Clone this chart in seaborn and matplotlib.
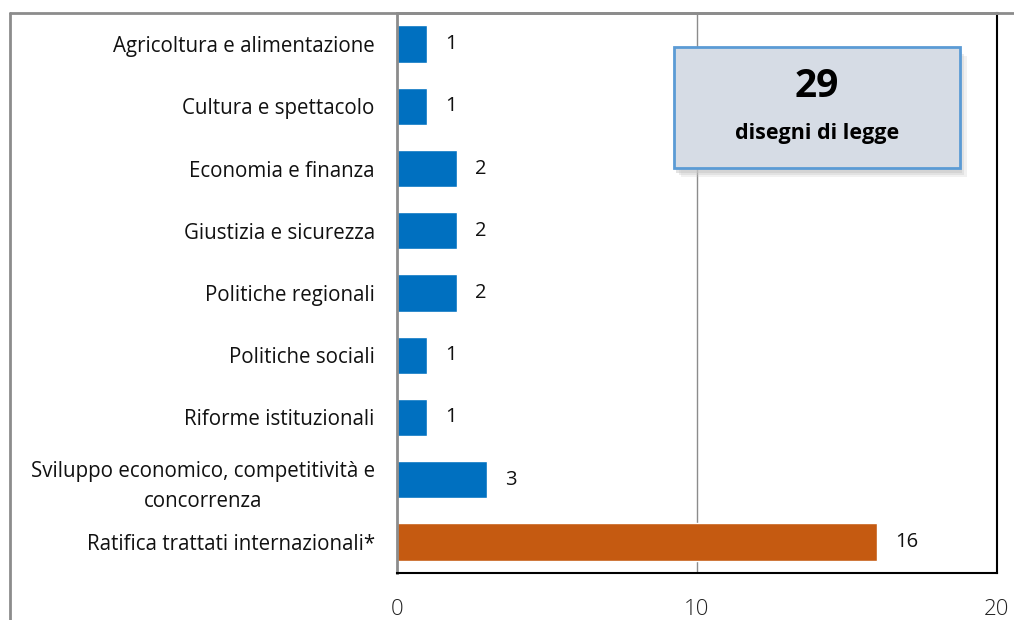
import numpy as np
import pandas as pd
import seaborn as sns
from matplotlib import pyplot as plt
from matplotlib.lines import Line2D
from matplotlib.patches import FancyBboxPatch

categorie = [
    "Agricoltura e alimentazione",
    "Cultura e spettacolo",
    "Economia e finanza",
    "Giustizia e sicurezza",
    "Politiche regionali",
    "Politiche sociali",
    "Riforme istituzionali",
    "Sviluppo economico, competitività e\nconcorrenza",
    "Ratifica trattati internazionali*",
]
valori = [1, 1, 2, 2, 2, 1, 1, 3, 16]
gruppo = ["tema"] * 8 + ["ratifica"]
colori = {"tema": "#0070C0", "ratifica": "#C55A11"}

totale = "29"
sottotitolo = "disegni di legge"
x_ticks = [0, 10, 20]

df = pd.DataFrame({"categoria": categorie, "valore": valori, "gruppo": gruppo})

sns.set_style("white")
plt.rcParams["font.family"] = ["Open Sans", "DejaVu Sans"]

fig = plt.figure(figsize=(10.14, 6.2), dpi=100)
ax = fig.add_axes([0.3915, 0.0758, 0.5915, 0.9032])

sns.barplot(data=df, y="categoria", x="valore", hue="gruppo", palette=colori,
            order=categorie, dodge=False, width=0.6, legend=False, ax=ax,
            saturation=1)

ax.set_xlim(0, 20)
ax.set_ylim(len(categorie) - 0.5, -0.5)
ax.set_xticks(x_ticks)
ax.set_xticklabels([str(t) for t in x_ticks], fontsize=16, color="#222222",
                   fontweight="light")
ax.tick_params(axis="x", length=0, pad=19)
ax.set_xlabel("")
ax.set_ylabel("")

# etichette al centro delle categorie, tacche ai confini
ax.set_yticks(range(len(categorie)))
ax.set_yticklabels(categorie, fontsize=14.8, color="#111111", multialignment="center",
                   linespacing=1.55)
ax.tick_params(axis="y", length=0, pad=16)
ax.set_yticks(np.arange(-0.5, len(categorie), 1), minor=True)
ax.tick_params(axis="y", which="minor", length=7, color="#888888", width=1)

ax.axvline(10, color="#8c8c8c", lw=1, zorder=0)

for sp in ["left", "top"]:
    ax.spines[sp].set_color("#8c8c8c")
    ax.spines[sp].set_linewidth(2)
for sp in ["right", "bottom"]:
    ax.spines[sp].set_color("#000000")
    ax.spines[sp].set_linewidth(1.5)

for i, v in enumerate(valori):
    ax.text(v + 0.6, i, str(v), va="center", ha="left", fontsize=14.5, color="#111111")

# riquadro totale
box_x, box_y, box_w, box_h = 0.462, 0.939, 0.476, 0.216
for k, a in enumerate([0.25, 0.35, 0.5]):
    off = 0.004 * (3 - k)
    ax.add_patch(FancyBboxPatch((box_x + off, box_y - box_h - 0.004 - off), box_w, box_h,
                                boxstyle="square,pad=0", transform=ax.transAxes,
                                facecolor="#c8c8c8", edgecolor="none", alpha=a, zorder=4))
box = FancyBboxPatch((box_x, box_y - box_h), box_w, box_h,
                     boxstyle="square,pad=0", transform=ax.transAxes,
                     facecolor="#D6DCE5", edgecolor="#5B9BD5", lw=2, zorder=5)
ax.add_patch(box)
ax.text(box_x + box_w / 2, box_y - 0.07, totale, transform=ax.transAxes,
        ha="center", va="center", fontsize=28, fontweight="bold", color="#000000", zorder=6)
ax.text(box_x + box_w / 2, box_y - 0.155, sottotitolo, transform=ax.transAxes,
        ha="center", va="center", fontsize=15.5, fontweight="bold", color="#000000", zorder=6)

# cornice esterna del grafico
fig.add_artist(Line2D([10 / 1014, 10 / 1014], [0, 1 - 13 / 620], transform=fig.transFigure,
                      color="#8c8c8c", lw=2))
fig.add_artist(Line2D([10 / 1014, 1], [1 - 13 / 620, 1 - 13 / 620], transform=fig.transFigure,
                      color="#8c8c8c", lw=2))

fig.savefig("out.png", dpi=100)
